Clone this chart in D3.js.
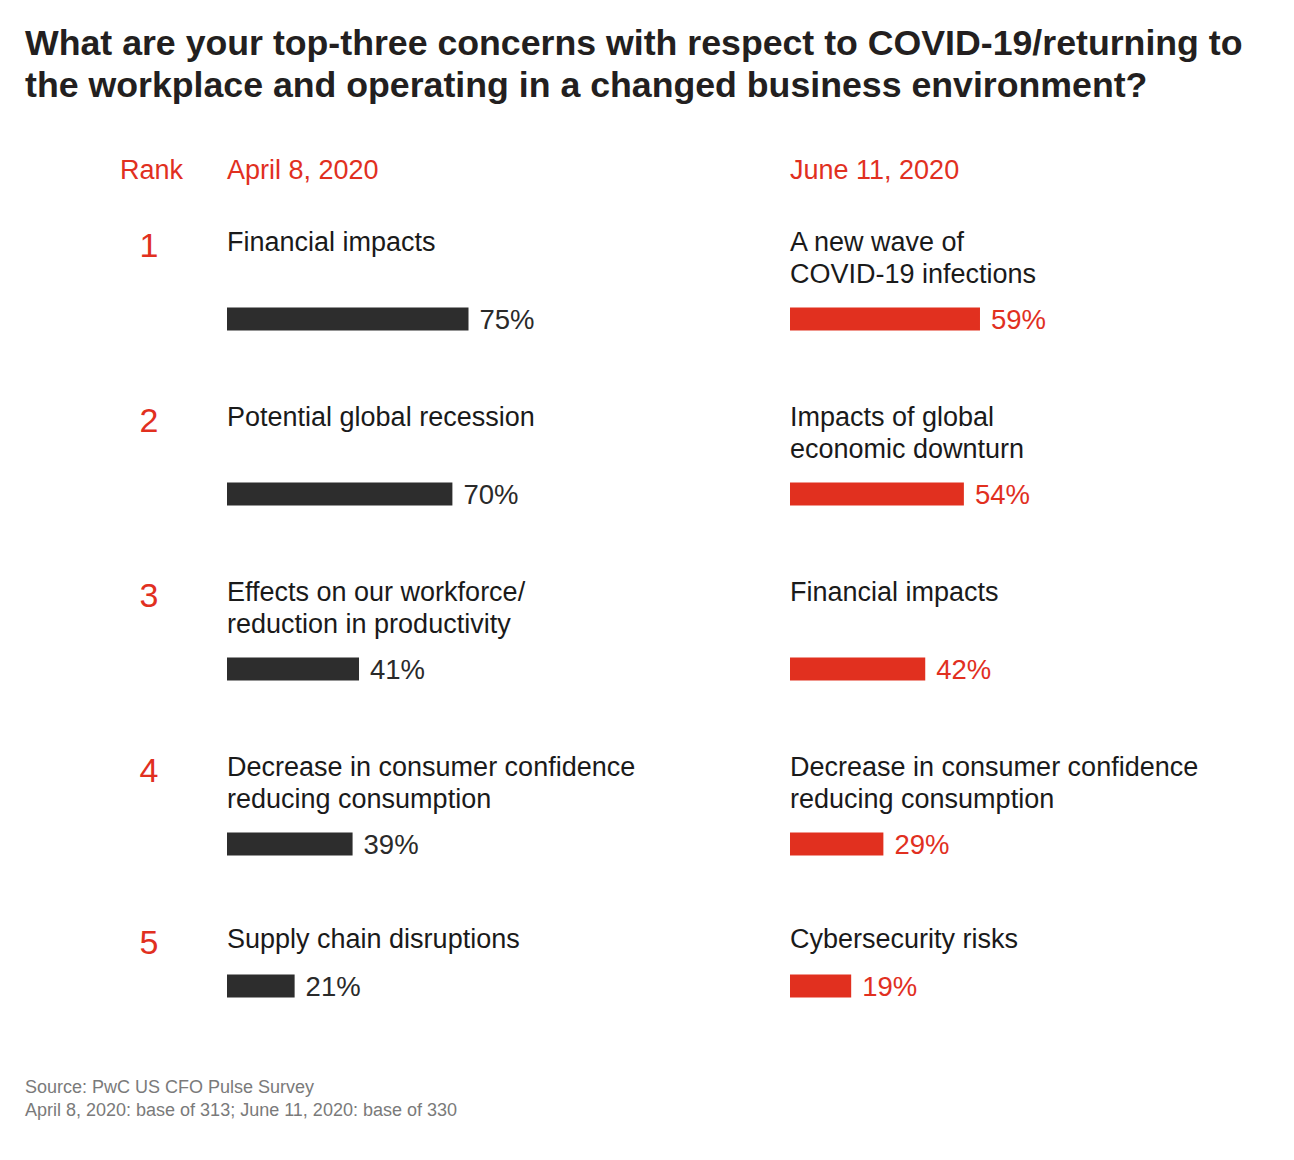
<!DOCTYPE html>
<html>
<head>
<meta charset="utf-8">
<script src="https://cdn.jsdelivr.net/npm/d3@7"></script>
<style>
  html, body { margin: 0; padding: 0; background: #fff; }
  svg { display: block; }
</style>
</head>
<body>
<svg id="chart" width="1294" height="1160"></svg>
<script>
// ---- Data ----
const ranks = [1, 2, 3, 4, 5];
const aprilLabels = [
  ["Financial impacts"],
  ["Potential global recession"],
  ["Effects on our workforce/", "reduction in productivity"],
  ["Decrease in consumer confidence", "reducing consumption"],
  ["Supply chain disruptions"]
];
const aprilValues = [75, 70, 41, 39, 21];
const juneLabels = [
  ["A new wave of", "COVID-19 infections"],
  ["Impacts of global", "economic downturn"],
  ["Financial impacts"],
  ["Decrease in consumer confidence", "reducing consumption"],
  ["Cybersecurity risks"]
];
const juneValues = [59, 54, 42, 29, 19];
const columnHeaders = ["Rank", "April 8, 2020", "June 11, 2020"];
const titleLines = [
  "What are your top-three concerns with respect to COVID-19/returning to",
  "the workplace and operating in a changed business environment?"
];
const sourceLines = [
  "Source: PwC US CFO Pulse Survey",
  "April 8, 2020: base of 313; June 11, 2020: base of 330"
];

// ---- Layout ----
const RED = "#e1301f";
const DARK = "#2d2d2d";
const FONT = "'Liberation Sans', Arial, Helvetica, sans-serif";
const svg = d3.select("#chart");

// bar length scale (same for both columns)
const x = d3.scaleLinear().domain([0, 100]).range([0, 322]);
// vertical positions of bar centres by rank (ranks 1-4 evenly spaced, rank 5 closer)
const y = d3.scaleLinear().domain([1, 4]).range([319, 844]);
const barCenter = r => r === 5 ? 986 : y(r);
const labelBase = r => r === 5 ? 948 : y(r) - 68;

const columns = [
  { x0: 227, labels: aprilLabels, values: aprilValues, color: DARK, valueColor: "#2a2a2a" },
  { x0: 790, labels: juneLabels, values: juneValues, color: RED, valueColor: RED }
];

// Title
svg.append("g").selectAll("text").data(titleLines).join("text")
  .attr("x", 25).attr("y", (d, i) => 55 + i * 42)
  .attr("font-family", FONT).attr("font-weight", "bold")
  .attr("font-size", 35.7).attr("fill", "#231f20")
  .text(d => d);

// Headers
const headerX = [120, 227, 790];
svg.append("g").selectAll("text").data(columnHeaders).join("text")
  .attr("x", (d, i) => headerX[i]).attr("y", 179)
  .attr("font-family", FONT).attr("font-size", 27).attr("fill", RED)
  .text(d => d);

// Rank numbers
svg.append("g").selectAll("text").data(ranks).join("text")
  .attr("x", 149).attr("y", r => labelBase(r) + 6)
  .attr("text-anchor", "middle")
  .attr("font-family", FONT).attr("font-size", 34).attr("fill", RED)
  .text(d => d);

// Columns
columns.forEach(col => {
  const g = svg.append("g");
  const rows = g.selectAll("g.row").data(ranks).join("g").attr("class", "row");

  rows.each(function(r, i) {
    const row = d3.select(this);
    row.selectAll("text.lbl").data(col.labels[i]).join("text")
      .attr("class", "lbl")
      .attr("x", col.x0).attr("y", (d, j) => labelBase(r) + j * 32)
      .attr("font-family", FONT).attr("font-size", 27).attr("fill", "#1a1a1a")
      .text(d => d);

    row.append("rect")
      .attr("x", col.x0)
      .attr("y", barCenter(r) - 11.5)
      .attr("width", x(col.values[i]))
      .attr("height", 23)
      .attr("fill", col.color);

    row.append("text")
      .attr("x", col.x0 + x(col.values[i]) + 11)
      .attr("y", barCenter(r) + 10)
      .attr("font-family", FONT).attr("font-size", 27.5).attr("fill", col.valueColor)
      .text(col.values[i] + "%");
  });
});

// Source
svg.append("g").selectAll("text").data(sourceLines).join("text")
  .attr("x", 25).attr("y", (d, i) => 1093 + i * 23)
  .attr("font-family", FONT).attr("font-size", 18).attr("fill", "#7a7a7a")
  .text(d => d);
</script>
</body>
</html>
